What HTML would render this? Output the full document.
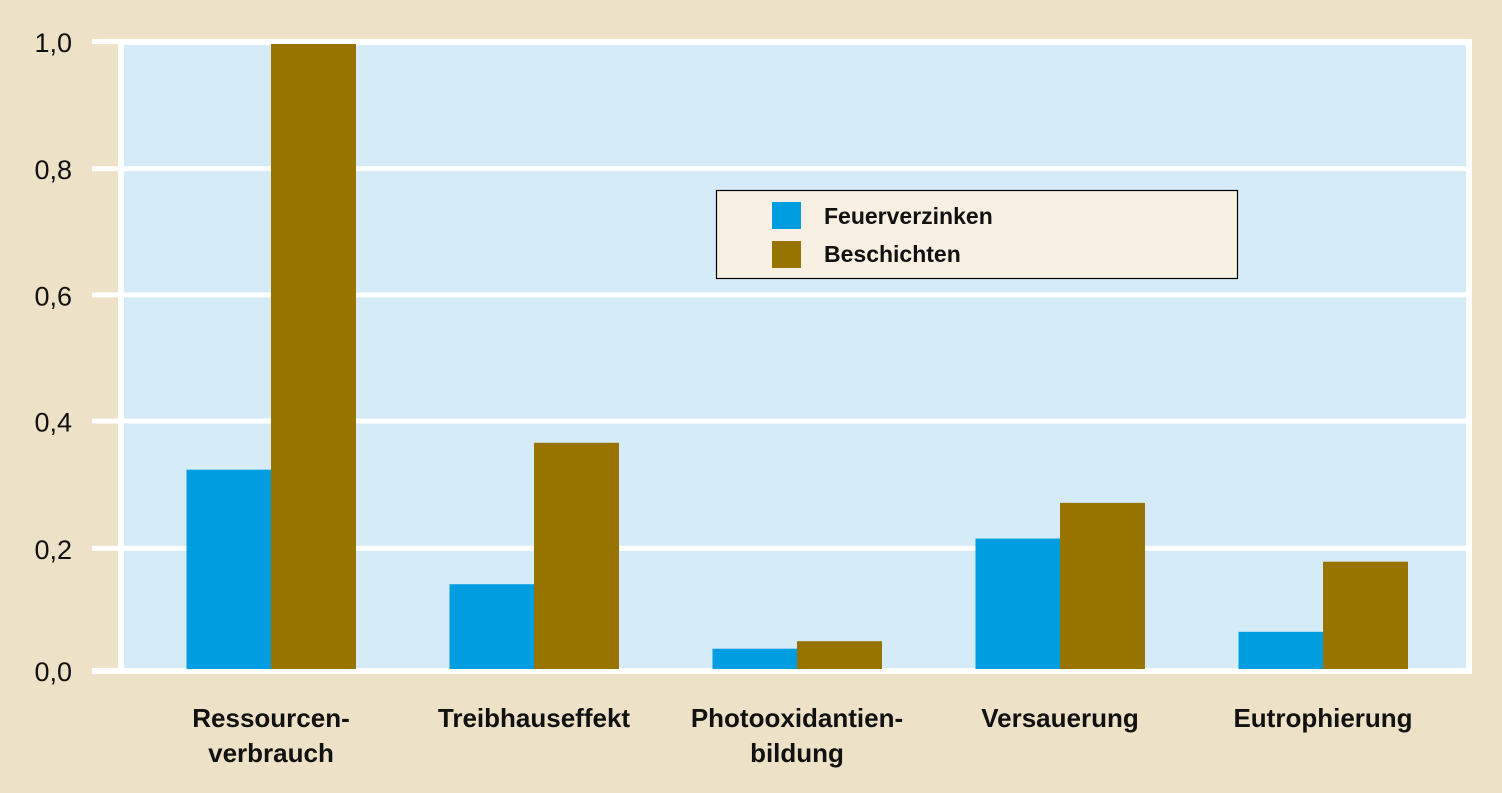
<!DOCTYPE html>
<html><head><meta charset="utf-8"><style>
html,body{margin:0;padding:0;background:#ede1c8;}
svg{display:block;}
text{font-family:"Liberation Sans Narrow","Liberation Sans",sans-serif;}
</style></head><body>
<svg id="chart" width="1502" height="793" viewBox="0 0 1502 793" xmlns="http://www.w3.org/2000/svg">
<rect x="0" y="0" width="1502" height="793" fill="#ede1c8"/>
<rect x="118" y="39" width="1354" height="635" fill="#ffffff"/>
<rect x="124" y="45" width="1342" height="623" fill="#d6ebf8"/>
<g id="grid"></g>
<g id="bars"></g>
<g id="yticks"></g>
<g id="xlabels"></g>
<g>
<rect x="716.5" y="190.5" width="521" height="88" fill="#f7f0e3" stroke="#000" stroke-width="1.2"/>
<rect x="772" y="202" width="29" height="27" fill="#009ee0"/>
<text x="824" y="224" font-size="23" font-weight="bold" fill="#111">Feuerverzinken</text>
<rect x="772" y="241" width="29" height="27" fill="#977300"/>
<text x="824" y="262" font-size="23" font-weight="bold" fill="#111">Beschichten</text>
</g>
</svg>
<script>
const categories=[["Ressourcen-","verbrauch"],["Treibhauseffekt"],["Photooxidantien-","bildung"],["Versauerung"],["Eutrophierung"]];
const feuerverzinken=[0.32,0.137,0.034,0.21,0.061];
const beschichten=[1.0,0.363,0.046,0.267,0.173];
const tickValues=[0,0.2,0.4,0.6,0.8,1.0];
const tickLabels=["0,0","0,2","0,4","0,6","0,8","1,0"];

const NS="http://www.w3.org/2000/svg";
const y0=670,y1=44;
function yScale(v){return y0-(y0-y1)*v;}
function xGroup(i){return 271+263*i;}
const barW=84.5;
function mk(tag,attrs,parent){const e=document.createElementNS(NS,tag);for(const k in attrs)e.setAttribute(k,attrs[k]);parent.appendChild(e);return e;}
const grid=document.getElementById('grid'),bars=document.getElementById('bars'),yt=document.getElementById('yticks'),xl=document.getElementById('xlabels');
tickValues.forEach((v,i)=>{
  const gy=i===0?671:(i===5?42:yScale(v)+ (v===0.2?4:v===0.4?2:v===0.6?1:0));
  const ln=mk('rect',{x:92,y:gy-3,width:1380,height:i===0?6:5,fill:'#fff'},grid);
  
  
  const t=mk('text',{x:72,y:gy+10,'text-anchor':'end','font-size':27,fill:'#111'},yt);
  
  
  t.style.fontFamily='"Liberation Sans",sans-serif';
  t.textContent=tickLabels[i];
});
categories.forEach((c,i)=>{
  const cx=xGroup(i);
  const yb=yScale(feuerverzinken[i]);
  const b1=mk('rect',{x:cx-barW,y:yb,width:barW,height:669-yb,fill:'#009ee0'},bars);
  
  
  const yc=yScale(beschichten[i]);
  const b2=mk('rect',{x:cx,y:yc,width:barW+0.5,height:669-yc,fill:'#977300'},bars);
  
  
  c.forEach((line,j)=>{
    const t=mk('text',{x:cx,y:727+35*j,'text-anchor':'middle','font-size':26,'font-weight':'bold',fill:'#111'},xl);
    
    
    t.textContent=line;
  });
});
</script>
</body></html>
